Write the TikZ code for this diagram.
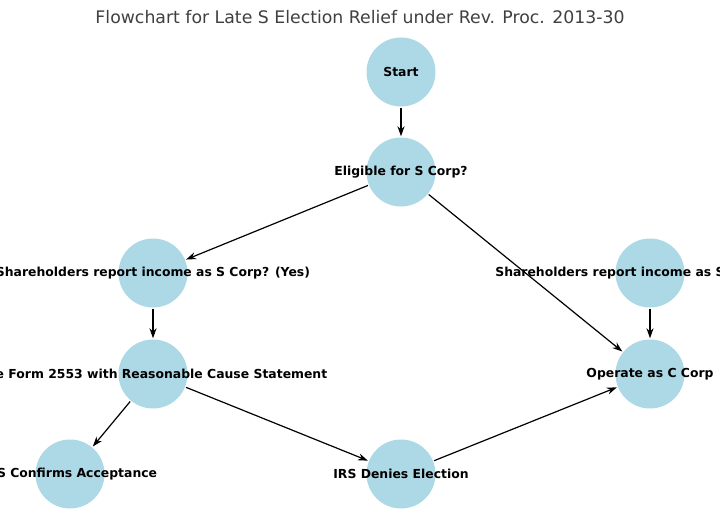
\documentclass[tikz,border=0pt]{standalone}
\usepackage{fontspec}
\setmainfont{DejaVu Sans}
\usetikzlibrary{arrows.meta}
\definecolor{lb}{RGB}{173,216,230}
\begin{document}
\begin{tikzpicture}[x=1pt,y=-1pt,
  n/.style={circle,fill=lb,minimum size=69pt,inner sep=0pt},
  lab/.style={font=\fontsize{12.4}{14}\selectfont\bfseries,text=black},
  e/.style={draw=black,line width=1.2pt,-{Stealth[length=10pt,width=7pt]},shorten >=1pt,shorten <=1pt}]
\useasboundingbox (0,0) rectangle (720,527);
\clip (0,0) rectangle (720,527);
\fill[white] (0,0) rectangle (720,527);
\node[font=\fontsize{17.3}{20}\selectfont,text=black!75] (title) at (360,17) {Flowchart for Late S Election Relief under Rev. Proc. 2013-30};
\node[n] (start) at (401,72) {};
\node[n] (elig) at (401,172) {};
\node[n] (shy) at (153,273) {};
\node[n] (shn) at (650,273) {};
\node[n] (form) at (153,374) {};
\node[n] (op) at (650,374) {};
\node[n] (conf) at (70,474) {};
\node[n] (deny) at (401,474) {};
\draw[e] (start) -- (elig);
\draw[e] (elig) -- (shy);
\draw[e] (elig) -- (op);
\draw[e] (shy) -- (form);
\draw[e] (shn) -- (op);
\draw[e] (form) -- (conf);
\draw[e] (form) -- (deny);
\draw[e] (deny) -- (op);
\node[lab] (l1) at (start) {Start};
\node[lab] (l2) at (elig) {Eligible for S Corp?};
\node[lab] (l3) at (shy) {Shareholders report income as S Corp? (Yes)};
\node[lab] (l4) at (shn) {Shareholders report income as S Corp? (No)};
\node[lab] (l5) at (form) {File Form 2553 with Reasonable Cause Statement};
\node[lab] (l6) at (op) {Operate as C Corp};
\node[lab] (l7) at (conf) {IRS Confirms Acceptance};
\node[lab] (l8) at (deny) {IRS Denies Election};
\end{tikzpicture}
\end{document}
